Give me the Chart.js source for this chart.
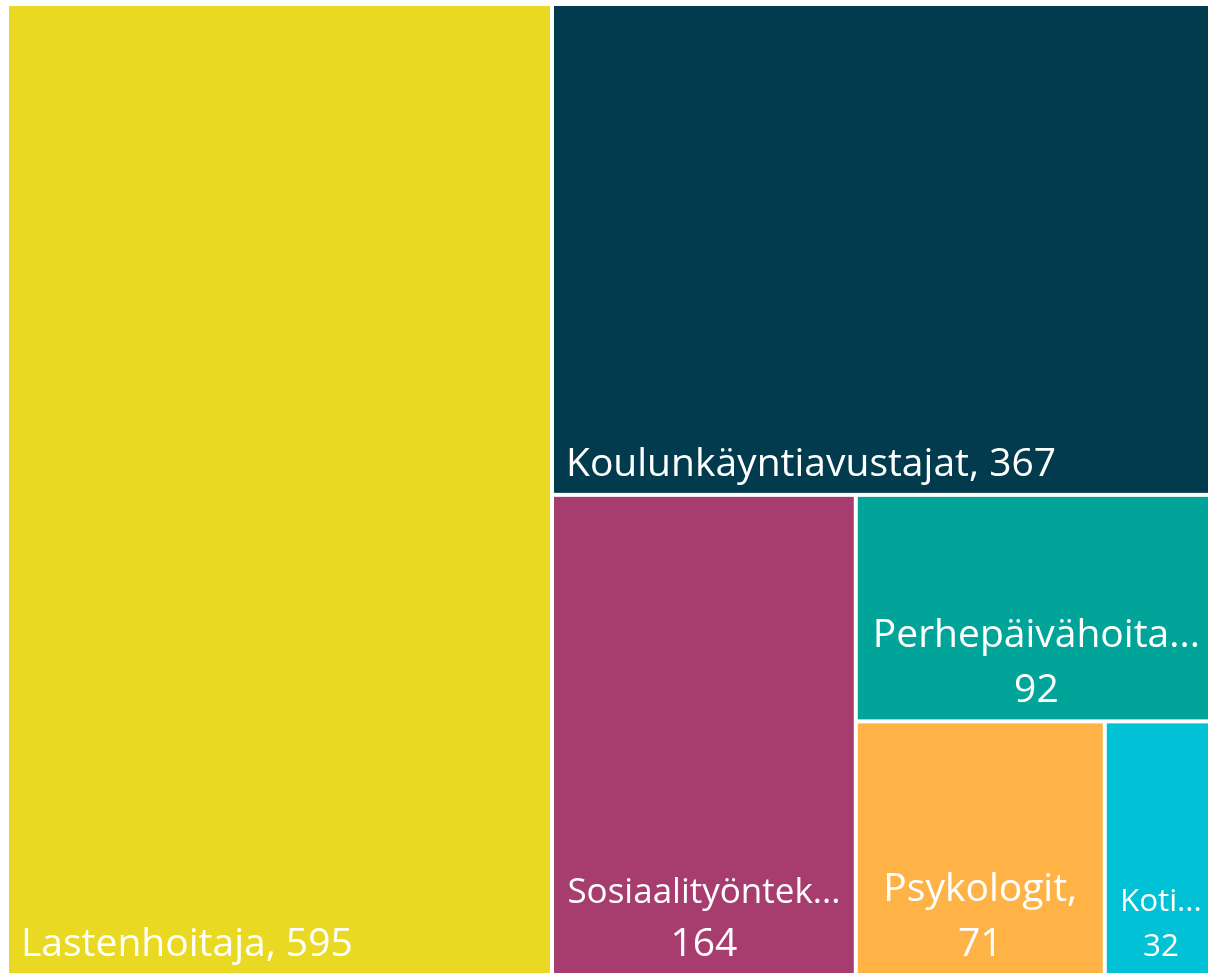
<!DOCTYPE html>
<html lang="fi">
<head>
    <meta charset="UTF-8">
    <title>Ammattiryhmät - treemap</title>
    <script src="https://cdn.jsdelivr.net/npm/chart.js"></script>
    <style>
        body {
            margin: 0;
            background-color: #ffffff;
            overflow: hidden;
            width: 1208px;
            height: 973px;
        }

        #wrap {
            position: absolute;
            left: 0;
            top: 0;
            width: 1220px;
            height: 980px;
        }
    </style>
</head>
<body>
    <div id="wrap">
        <canvas id="treemapChart" width="1220" height="980"></canvas>
    </div>

    <script>
        const categories = [
            'Lastenhoitaja',
            'Koulunkäyntiavustajat',
            'Sosiaalityöntekijät',
            'Perhepäivähoitajat',
            'Psykologit',
            'Kotipalvelutyöntekijät'
        ];
        const values = [595, 367, 164, 92, 71, 32];
        const colors = ['#E9D923', '#013B4D', '#A73D6F', '#00A499', '#FFB347', '#00C1D5'];

        const FONT = '"Open Sans", "Noto Sans", sans-serif';

        // squarified treemap, areas in pixel units
        function worst(row, side) {
            const s = row.reduce((a, b) => a + b, 0);
            const mx = Math.max(...row), mn = Math.min(...row);
            return Math.max(side * side * mx / (s * s), (s * s) / (side * side * mn));
        }

        function squarify(items, rect) {
            const out = [];
            let r = { ...rect };
            let rest = items.slice();
            while (rest.length) {
                const side = Math.min(r.w, r.h);
                let row = [rest[0]];
                let k = 1;
                while (k < rest.length) {
                    const cand = row.concat(rest[k]);
                    if (worst(cand.map(o => o.area), side) <= worst(row.map(o => o.area), side)) {
                        row = cand;
                        k++;
                    } else break;
                }
                rest = rest.slice(k);
                const s = row.reduce((a, o) => a + o.area, 0);
                if (r.w >= r.h) {
                    const t = s / r.h;
                    let yy = r.y;
                    row.forEach(o => {
                        const hh = o.area / t;
                        out.push({ i: o.i, x: r.x, y: yy, w: t, h: hh });
                        yy += hh;
                    });
                    r = { x: r.x + t, y: r.y, w: r.w - t, h: r.h };
                } else {
                    const t = s / r.w;
                    let xx = r.x;
                    row.forEach(o => {
                        const ww = o.area / t;
                        out.push({ i: o.i, x: xx, y: r.y, w: ww, h: t });
                        xx += ww;
                    });
                    r = { x: r.x, y: r.y + t, w: r.w, h: r.h - t };
                }
            }
            return out;
        }

        function truncate(ctx, text, maxW) {
            if (ctx.measureText(text).width <= maxW) return text;
            let s = text;
            while (s.length > 1 && ctx.measureText(s + '...').width > maxW) s = s.slice(0, -1);
            return s + '...';
        }

        function drawLabel(ctx, b, name, value) {
            const pad = 12;
            const maxW = b.w - 2 * pad;
            const base = 39;
            const full = name + ', ' + value;
            ctx.fillStyle = '#ffffff';
            ctx.font = base + 'px ' + FONT;

            if (ctx.measureText(full).width <= maxW) {
                ctx.textAlign = 'left';
                ctx.textBaseline = 'alphabetic';
                ctx.fillText(full, b.x + pad, b.y + b.h - 17);
                return;
            }

            // two lines, centered
            const first = name + ',';
            let size = Math.min(base, b.w * 0.29);
            ctx.font = size + 'px ' + FONT;
            if (b.w > 150 && ctx.measureText(first).width > maxW) {
                const need = first.slice(0, 15) + '...';
                while (size > 26 && ctx.measureText(need).width > maxW) {
                    size -= 1;
                    ctx.font = size + 'px ' + FONT;
                }
            }
            const line1 = truncate(ctx, first, maxW);
            const vSize = Math.min(base, b.w * 0.29);
            const gap = (size + vSize) / 2 * 1.42;
            const cx = b.x + b.w / 2;
            const yLast = b.y + b.h - 17;

            ctx.textAlign = 'center';
            ctx.textBaseline = 'alphabetic';
            ctx.fillText(line1, cx, yLast - gap);
            ctx.font = vSize + 'px ' + FONT;
            ctx.fillText(String(value), cx, yLast);
        }

        const treemapCells = {
            id: 'treemapCells',
            afterDatasetsDraw(chart) {
                const { ctx, scales: { x, y } } = chart;
                const left = x.getPixelForValue(0), right = x.getPixelForValue(1);
                const top = y.getPixelForValue(1), bottom = y.getPixelForValue(0);
                const W = right - left, H = bottom - top;
                const total = values.reduce((a, b) => a + b, 0);
                const items = values.map((v, i) => ({ i, area: v / total * W * H }));
                const cells = squarify(items, { x: 0, y: 0, w: W, h: H });
                const inset = 2;

                ctx.save();
                cells.forEach(c => {
                    const x0 = x.getPixelForValue(c.x / W);
                    const x1 = x.getPixelForValue((c.x + c.w) / W);
                    const y0 = y.getPixelForValue(1 - c.y / H);
                    const y1 = y.getPixelForValue(1 - (c.y + c.h) / H);
                    const b = { x: x0 + inset, y: y0 + inset, w: x1 - x0 - 2 * inset, h: y1 - y0 - 2 * inset };
                    ctx.fillStyle = colors[c.i];
                    ctx.fillRect(b.x, b.y, b.w, b.h);
                    drawLabel(ctx, b, categories[c.i], values[c.i]);
                });
                ctx.restore();
            }
        };

        const chart = new Chart(document.getElementById('treemapChart'), {
            type: 'scatter',
            data: {
                datasets: [{ data: [] }]
            },
            options: {
                responsive: false,
                animation: false,
                layout: {
                    padding: { left: 7, top: 4, right: 3, bottom: 5 }
                },
                scales: {
                    x: { type: 'linear', min: 0, max: 1, display: false },
                    y: { type: 'linear', min: 0, max: 1, display: false }
                },
                plugins: {
                    legend: { display: false },
                    tooltip: { enabled: false }
                }
            },
            plugins: [treemapCells]
        });
    </script>
</body>
</html>
